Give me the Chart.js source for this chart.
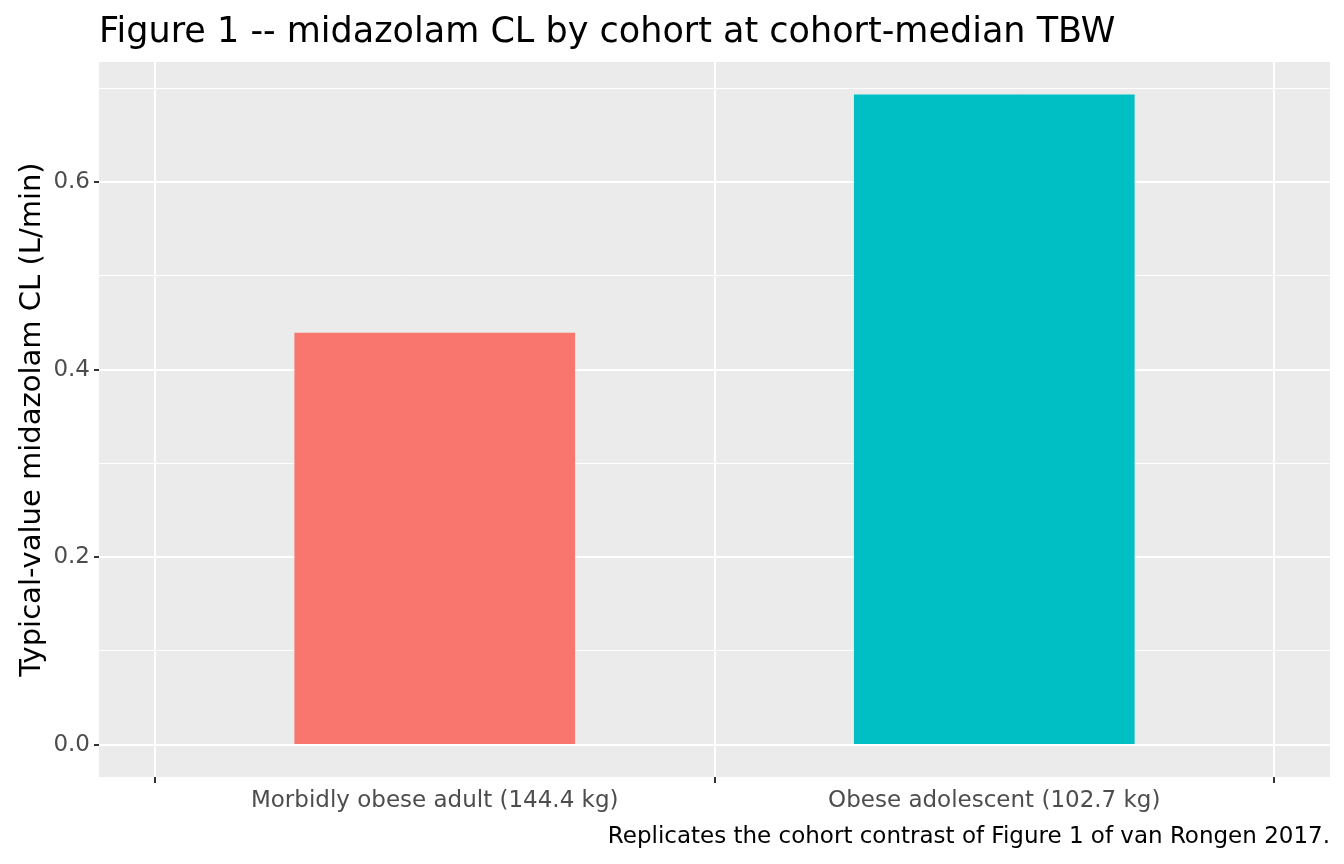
<!DOCTYPE html>
<html>
<head>
<meta charset="utf-8">
<script src="https://cdn.jsdelivr.net/npm/chart.js@4.4.1/dist/chart.umd.min.js"></script>
<style>
  html, body { margin: 0; padding: 0; background: #fff; }
  #wrap { width: 1344px; height: 864px; }
</style>
</head>
<body>
<div id="wrap"><canvas id="c"></canvas></div>
<script>
// Data
const cohorts = ['Morbidly obese adult (144.4 kg)', 'Obese adolescent (102.7 kg)'];
const clValues = [0.439, 0.693];
const barColours = ['#F8766D', '#00BFC4'];
const yTickLabels = ['0.0', '0.2', '0.4', '0.6'];

const titleText = 'Figure 1 -- midazolam CL by cohort at cohort-median TBW';
const yTitleText = 'Typical-value midazolam CL (L/min)';
const captionText = 'Replicates the cohort contrast of Figure 1 of van Rongen 2017.';
const font = '"DejaVu Sans", sans-serif';

// ggplot-like panel background and texts
const ggTheme = {
  id: 'ggTheme',
  beforeDraw(chart) {
    const { ctx, chartArea: a } = chart;
    ctx.save();
    ctx.fillStyle = '#EBEBEB';
    ctx.fillRect(a.left, a.top, a.right - a.left, a.bottom - a.top);
    ctx.restore();
  },
  afterDraw(chart) {
    const { ctx, chartArea: a } = chart;
    ctx.save();
    ctx.fillStyle = '#000';
    ctx.textBaseline = 'alphabetic';
    ctx.font = '35px ' + font;
    ctx.textAlign = 'left';
    ctx.fillText(titleText, 99, 42);
    ctx.font = '23px ' + font;
    ctx.textAlign = 'right';
    ctx.fillText(captionText, 1330, 843);
    ctx.translate(40, (a.top + a.bottom) / 2);
    ctx.rotate(-Math.PI / 2);
    ctx.textAlign = 'center';
    ctx.font = '29px ' + font;
    ctx.fillText(yTitleText, 0, 0);
    ctx.restore();
  }
};

new Chart(document.getElementById('c'), {
  type: 'bar',
  data: {
    datasets: [{
      data: clValues.map((v, i) => ({ x: i + 1, y: v })),
      backgroundColor: barColours,
      borderWidth: 0,
      barThickness: 280
    }]
  },
  options: {
    responsive: true,
    maintainAspectRatio: false,
    animation: false,
    layout: { padding: { top: 62, right: 14, left: 0, bottom: 0 } },
    plugins: { legend: { display: false }, tooltip: { enabled: false } },
    scales: {
      x: {
        type: 'linear',
        min: 0.4,
        max: 2.6,
        offset: false,
        afterFit(s) { s.height = 87; },
        afterBuildTicks(s) {
          s.ticks = cohorts.map((c, i) => ({ value: i + 1 }));
        },
        grid: { color: '#FFFFFF', lineWidth: 2, tickLength: 6, tickColor: '#333333' },
        border: { display: false },
        ticks: {
          color: '#4D4D4D',
          font: { family: font, size: 23 },
          padding: 4,
          autoSkip: false,
          maxRotation: 0,
          callback(v) { return cohorts[Math.round(v) - 1] || ''; }
        }
      },
      y: {
        min: -0.0345,
        max: 0.728,
        afterFit(s) { s.width = 99; },
        afterBuildTicks(s) {
          s.ticks = [0, 0.1, 0.2, 0.3, 0.4, 0.5, 0.6, 0.7].map(v => ({ value: v }));
        },
        grid: {
          color: '#FFFFFF',
          lineWidth: c => (Math.round(c.tick.value * 10) % 2 === 0 ? 2 : 1),
          tickLength: 5,
          tickColor: c => (Math.round(c.tick.value * 10) % 2 === 0 ? '#333333' : 'rgba(0,0,0,0)')
        },
        border: { display: false },
        ticks: {
          color: '#4D4D4D',
          font: { family: font, size: 23 },
          padding: 4,
          callback(v) {
            const i = Math.round(v * 10);
            return i % 2 === 0 ? yTickLabels[i / 2] : '';
          }
        }
      }
    }
  },
  plugins: [ggTheme]
});
</script>
</body>
</html>
